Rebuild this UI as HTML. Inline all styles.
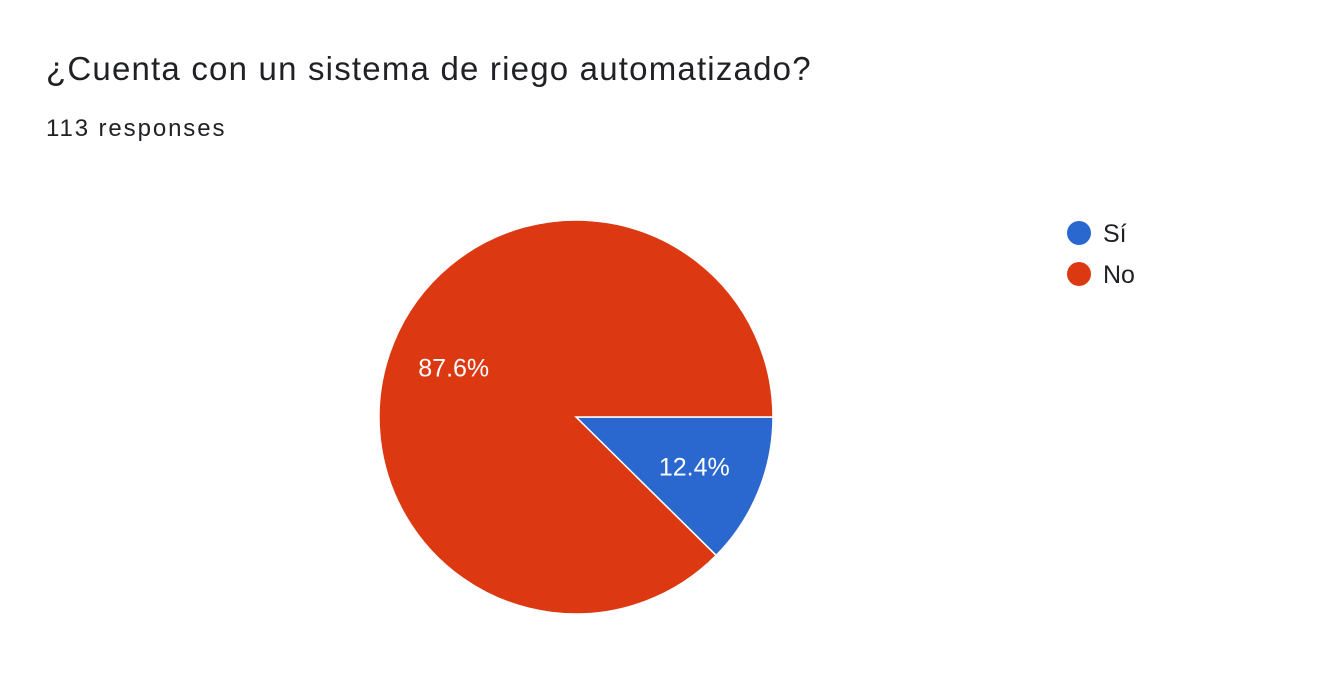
<!DOCTYPE html>
<html><head><meta charset="utf-8">
<style>
body{margin:0;background:#fff;font-family:"Liberation Sans",Arial,sans-serif;}
.wrap{position:relative;width:1318px;height:676px;overflow:hidden;}
.title{position:absolute;left:46px;top:50px;font-size:33px;color:#202124;letter-spacing:1.2px;white-space:nowrap;}
.sub{position:absolute;left:46px;top:115px;font-size:24px;color:#202124;letter-spacing:1.9px;white-space:nowrap;}
svg{position:absolute;left:0;top:0;}
</style></head><body>
<div class="wrap">
<div class="title">¿Cuenta con un sistema de riego automatizado?</div>
<div class="sub">113 responses</div>
<svg id="chart" width="1318" height="676"></svg>
</div>
<script>
const categories=["Sí","No"];
const values=[12.4,87.6];
const labels=["12.4%","87.6%"];
const colors=["#2a68cf","#dc3912"];
const ns="http://www.w3.org/2000/svg";
const svg=document.getElementById('chart');
const cx=576,cy=417,R=197;
const total=values.reduce((a,b)=>a+b,0);
let a0=0;
function pt(a,r){return [cx+r*Math.cos(a),cy+r*Math.sin(a)];}
values.forEach((v,i)=>{
  const a1=a0+v/total*2*Math.PI;
  const p0=pt(a0,R),p1=pt(a1,R);
  const large=(a1-a0)>Math.PI?1:0;
  const path=document.createElementNS(ns,'path');
  path.setAttribute('d',`M${cx},${cy}L${p0[0]},${p0[1]}A${R},${R} 0 ${large} 1 ${p1[0]},${p1[1]}Z`);
  path.setAttribute('fill',colors[i]);
  path.setAttribute('stroke','#fff');
  path.setAttribute('stroke-width','1.5');
  
  
  svg.appendChild(path);
  const am=(a0+a1)/2;const lp=pt(am,R*0.66);
  const t=document.createElementNS(ns,'text');
  t.setAttribute('x',lp[0]-2);t.setAttribute('y',lp[1]+9);
  t.setAttribute('text-anchor','middle');t.setAttribute('fill','#fff');
  t.setAttribute('font-size','25');t.setAttribute('font-family','Liberation Sans, Arial, sans-serif');
  t.textContent=labels[i];
  
  
  svg.appendChild(t);
  a0=a1;
});
categories.forEach((c,i)=>{
  const g=document.createElementNS(ns,'g');
  
  
  const y=233+i*41;
  const ci=document.createElementNS(ns,'circle');
  ci.setAttribute('cx',1079);ci.setAttribute('cy',y);ci.setAttribute('r',12);ci.setAttribute('fill',colors[i]);
  g.appendChild(ci);
  const t=document.createElementNS(ns,'text');
  t.setAttribute('x',1103);t.setAttribute('y',y+9);t.setAttribute('font-size','25');
  t.setAttribute('fill','#202124');t.setAttribute('font-family','Liberation Sans, Arial, sans-serif');
  t.textContent=c;g.appendChild(t);
  svg.appendChild(g);
});
</script>
</body></html>
